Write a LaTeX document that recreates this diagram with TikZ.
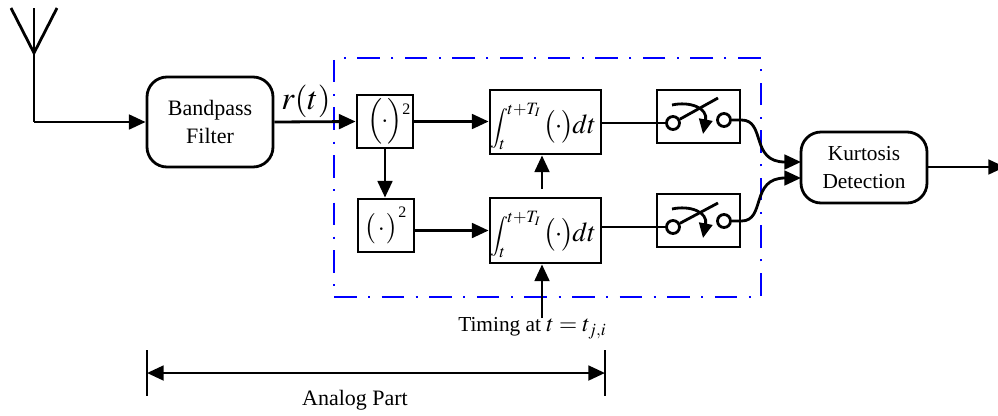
\documentclass[tikz,border=0pt]{standalone}
\usepackage{mathptmx}
\usepackage[no-math]{fontspec}
\setmainfont{Liberation Serif}
\usetikzlibrary{arrows.meta}
\tikzset{
  x=0.75pt,y=-0.75pt,
  headtip/.tip={Triangle[length=12.5pt,width=11pt]},
  wire/.style={line width=2.1pt,-headtip},
  plain/.style={line width=2.1pt},
  blockbox/.style={draw,line width=2.1pt,inner sep=0pt,anchor=center},
  lab/.style={font=\fontsize{16.5}{21}\selectfont,align=center},
  labk/.style={font=\fontsize{16}{21}\selectfont,align=center},
}
\newcommand{\placebox}[7][]{\node[blockbox,#1,minimum width=#6*0.75pt,minimum height=#7*0.75pt] (#2) at (#3,#4) {#5};}
% #1 delimiter height, pt; #2 inner kern, pt
\newcommand{\bigdot}[2]{{\left(\vcenter{\hbox{\rule{0pt}{#1pt}}}\kern#2pt\cdot\kern#2pt\right)}}
% #1 horizontal shift, #2 vertical shift, #3 delimiter height, #4 raise of the 2, #5 inner kern, #6 kern before the 2
\newcommand{\sqrbox}[6]{\smash{\raisebox{#2pt}{\makebox[0pt]{\hspace{#1pt}\fontsize{19}{22}\selectfont$\bigdot{#3}{#5}$\kern#6pt\raisebox{#4pt}{\fontsize{12}{12}\selectfont 2}}}}}
\newcommand{\intgbox}[1]{\smash{\raisebox{-8.5pt}{\makebox[0pt]{\hspace{#1pt}\fontsize{20.5}{24}\selectfont\mbox{\fontsize{15}{18}\selectfont$\displaystyle\int_{\kern-1pt\mbox{\fontsize{13}{13}\selectfont$t$}}^{\kern-1pt\mbox{\fontsize{13}{13}\selectfont$t{+}T_{I}$}}$}\kern2pt$\bigdot{24}{-1}\kern-1pt dt$}}}}
\begin{document}
\begin{tikzpicture}
\useasboundingbox (0,0) rectangle (998,415);
% dashed enclosure
\node[draw=blue,line width=2pt,dash pattern=on 17pt off 8.6pt on 1.5pt off 8.6pt,minimum width=427*0.75pt,minimum height=239*0.75pt,inner sep=0pt] (encl) at (547.5,177.5) {};
% antenna
\coordinate (antTop) at (34,8);
\coordinate (antJoin) at (34,53);
\coordinate (antL) at (11,8);
\coordinate (antR) at (57,8);
\coordinate (antCorner) at (34,122);
\draw[plain] (antL) -- (antJoin) -- (antR);
\draw[plain] (antTop) -- (antCorner);
% blocks
\placebox[rounded corners=15pt,lab]{bpf}{210}{122}{Bandpass\\Filter}{126}{90}
\placebox{sa}{385}{121.5}{\sqrbox{6}{-4.75}{30}{10}{-1}{0}}{56}{53}
\placebox{sb}{386}{225.5}{\sqrbox{-1}{-7.3}{24}{13}{1.5}{0}}{56}{53}
\placebox{ia}{545.5}{122}{\intgbox{-3}}{111}{64}
\placebox{ib}{545.5}{230.5}{\intgbox{-3}}{111}{65}
\placebox{swa}{698.5}{116.5}{}{83}{53}
\placebox{swb}{698.5}{220.5}{}{83}{53}
\placebox[rounded corners=15pt,labk]{kd}{864}{167.5}{Kurtosis\\Detection}{126}{71}
% wires
\draw[wire] (antCorner) -- (bpf.west);
\draw[wire] (bpf.east) -- (sa.west);
\node[font=\fontsize{24.5}{28}\selectfont] (rt) at (306,101) {$r(t)$};
\draw[wire] (sa.east) -- (sa.east -| ia.west);
\draw[wire] (sa.south) -- (sa.south |- sb.north);
\draw[wire] (sb.east |- ib.west) -- (ib.west);
\coordinate (mid) at (542,189);
\draw[wire] (mid) -- (mid |- ia.south);
\coordinate (timTop) at (542,318);
\draw[wire] (timTop) -- (timTop |- ib.south);
\node[font=\fontsize{16}{18}\selectfont,anchor=west,inner sep=0pt] (tim) at (458,328) {Timing at \fontsize{17.5}{20}\selectfont $t=t_{j,i}$};
% switches
\foreach \n/\dy/\la/\lb/\ae in {a/0/123/120/98,b/104/227/221/203}{
  \node[draw,circle,line width=2.1pt,minimum size=13*0.75pt,inner sep=0pt,fill=white] (c1\n) at (673,\la) {};
  \node[draw,circle,line width=2.1pt,minimum size=13*0.75pt,inner sep=0pt,fill=white] (c2\n) at (724,\lb) {};
  \coordinate (arm\n) at (718,\ae);
  \draw[plain] (c1\n) -- (arm\n);
  \coordinate (arcS\n) at (672,\the\numexpr 105+\dy\relax);
  \coordinate (arcE\n) at (703,\the\numexpr 134+\dy\relax);
  \draw[plain,-{Triangle[length=11pt,width=10pt]}] (arcS\n) .. controls (690,\the\numexpr 101+\dy\relax) and (708,\the\numexpr 108+\dy\relax) .. (arcE\n);
}
\draw[plain] (ia.east |- c1a) -- (c1a.west);
\draw[plain] (ib.east |- c1b) -- (c1b.west);
% curves into kurtosis
\coordinate (ka) at (801,162);
\coordinate (kb) at (801,178);
\draw[wire] (c2a.east) -- (swa.east |- c2a) .. controls (766,120) and (750,162) .. (ka);
\draw[wire] (c2b.east) -- (swb.east |- c2b) .. controls (766,221) and (750,178) .. (kb);
\coordinate (outEnd) at (1005,167);
\draw[wire] (kd.east |- outEnd) -- (outEnd);
% analog part
\coordinate (barLa) at (147,350);\coordinate (barLb) at (147,396);
\coordinate (barRa) at (605,350);\coordinate (barRb) at (605,396);
\draw[plain] (barLa) -- (barLb);
\draw[plain] (barRa) -- (barRb);
\draw[line width=2.1pt,headtip-headtip] (barLa |- 0,373) -- (barRa |- 0,373);
\node[font=\fontsize{16.5}{18}\selectfont] (ap) at (355,400) {Analog Part};
\end{tikzpicture}
\end{document}
